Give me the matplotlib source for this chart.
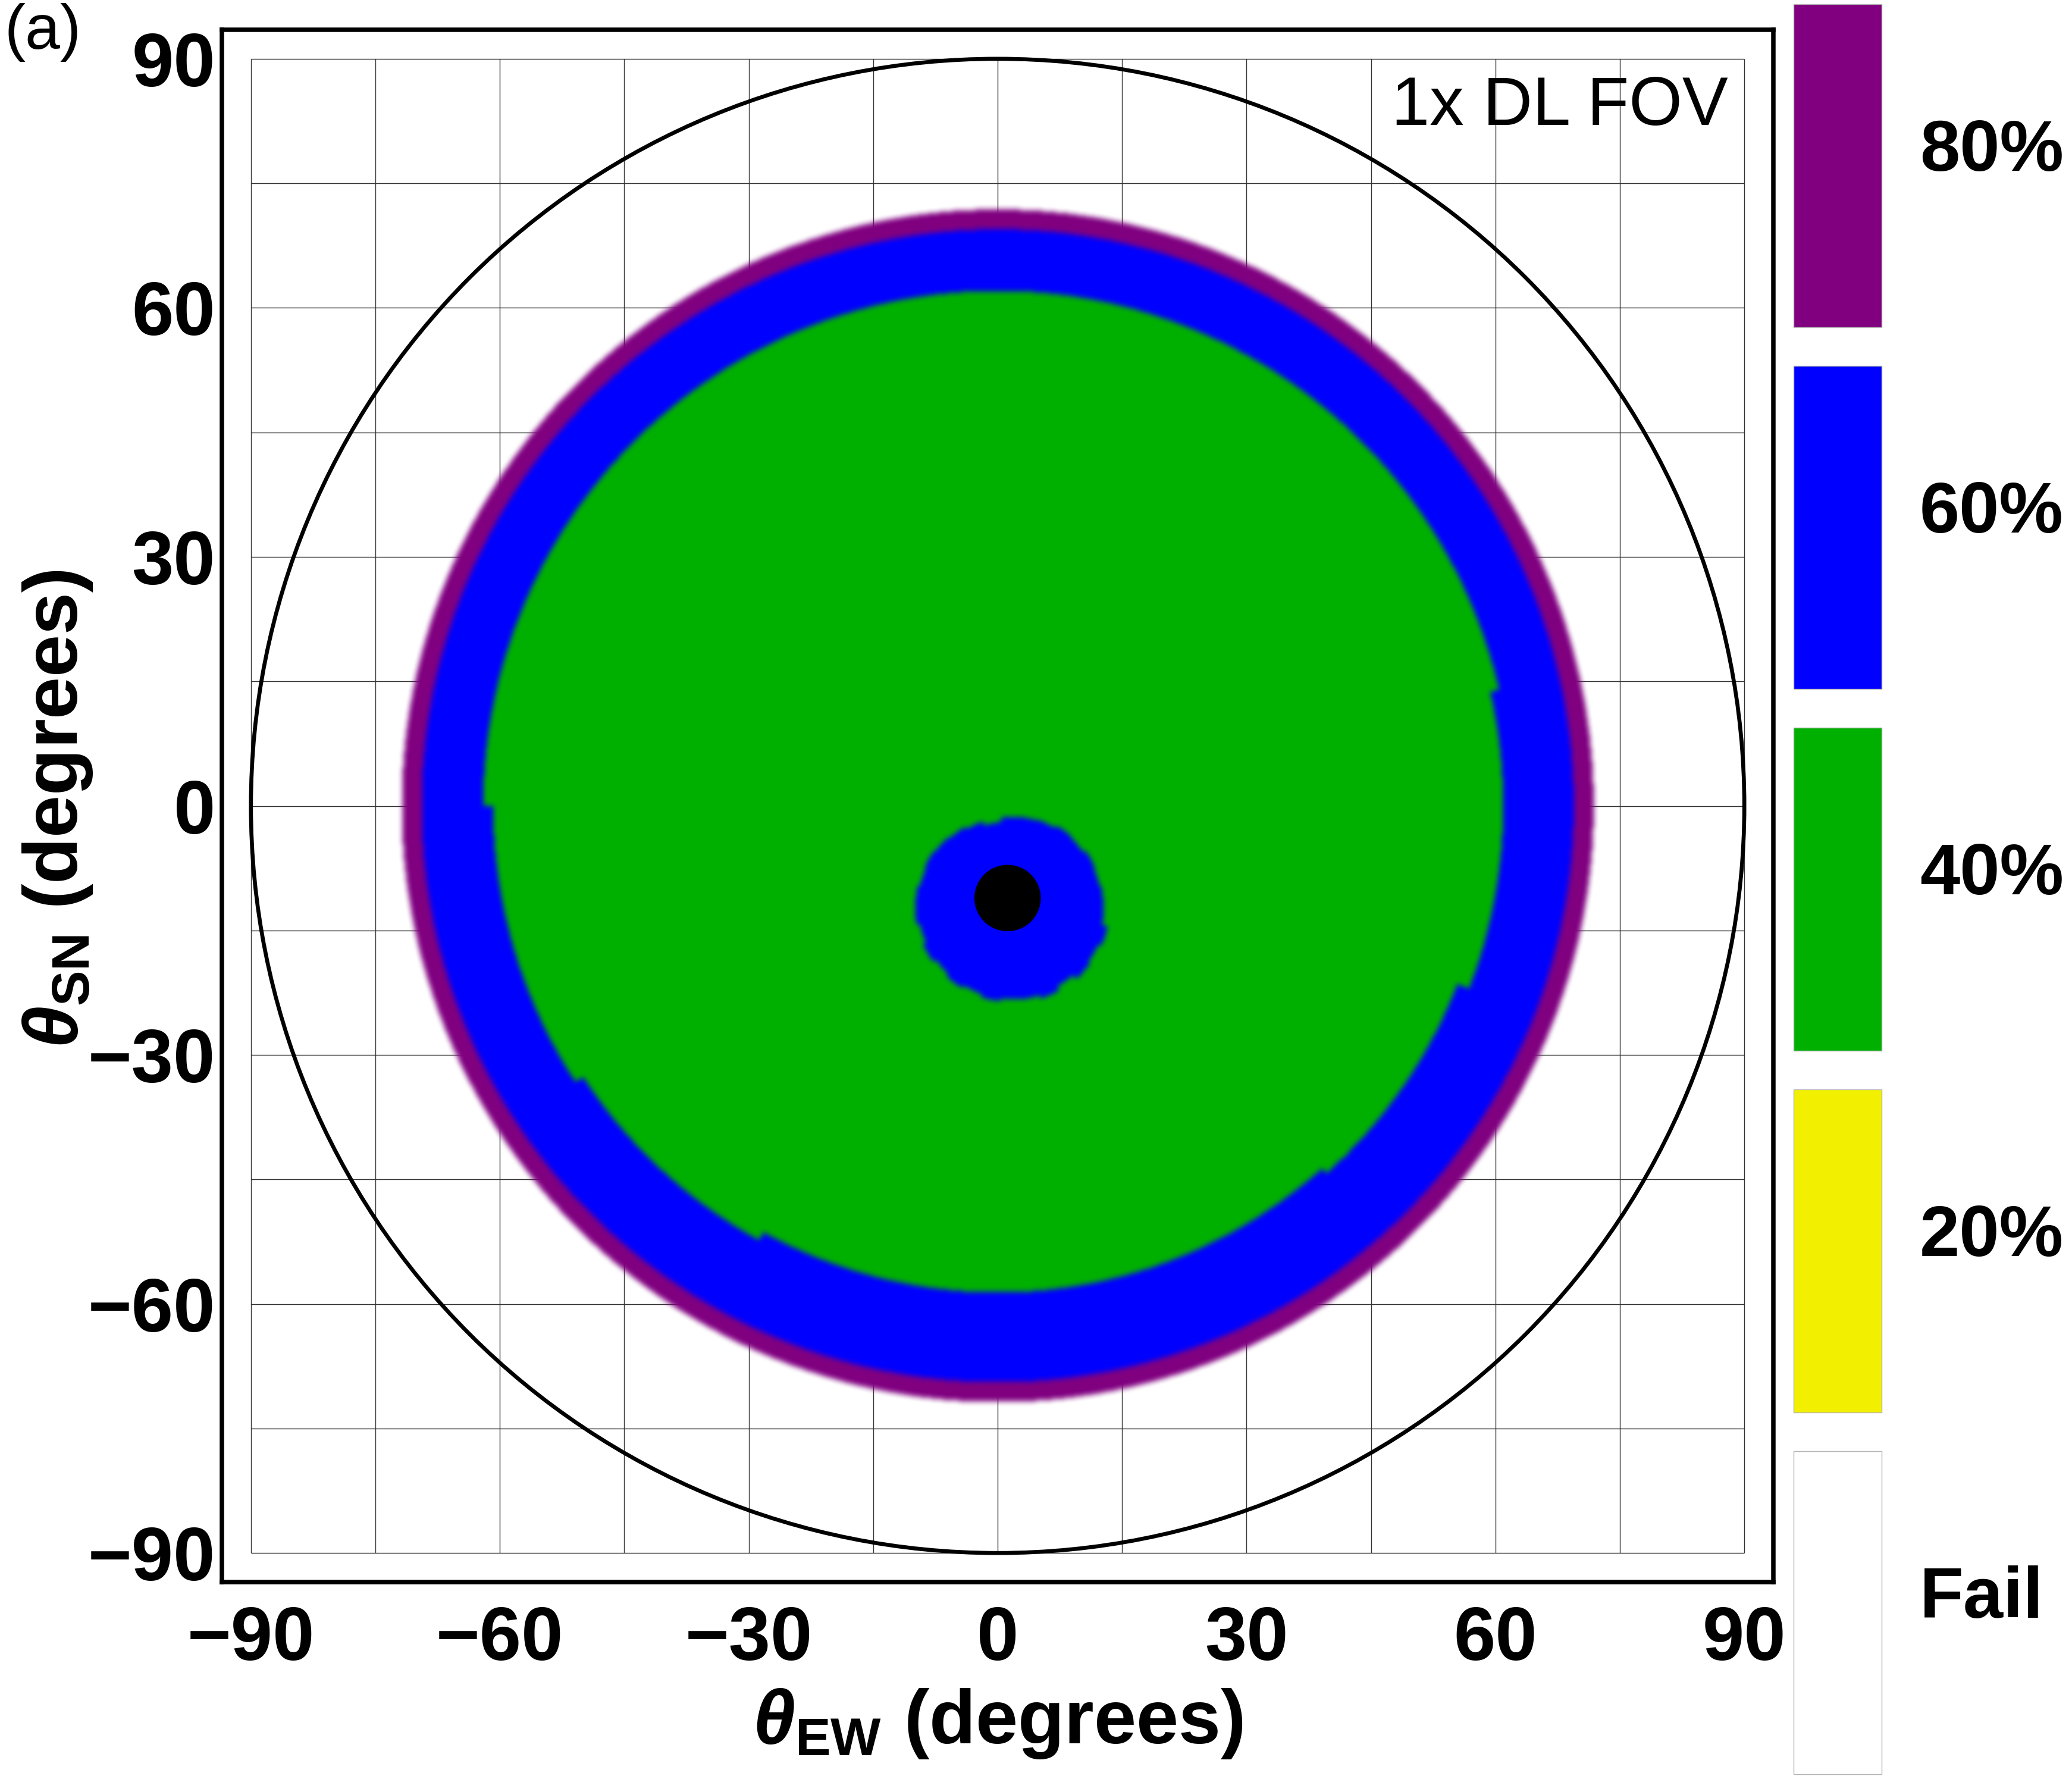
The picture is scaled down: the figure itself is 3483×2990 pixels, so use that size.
import numpy as np
import matplotlib
matplotlib.use('Agg')
import matplotlib.pyplot as plt
from matplotlib.patches import Circle

plt.rcParams['font.family'] = 'Liberation Sans'
plt.rcParams['mathtext.fontset'] = 'custom'
plt.rcParams['mathtext.rm'] = 'Liberation Sans:bold'
plt.rcParams['mathtext.bf'] = 'Liberation Sans:bold'
plt.rcParams['mathtext.it'] = 'Liberation Sans:italic:bold'

# legend, top to bottom
legend_labels = ['80%', '60%', '40%', '20%', 'Fail']
legend_colors = ['#800080', '#0000ff', '#00b000', '#f2f000', '#ffffff']

# coverage map (degrees)
ring_outer = 71.8          # 80% ring outer edge
ring_inner = 69.4          # 80% -> 60%
green_edges = [-180, -146.8, -118.8, -48.2, -21.2, 13.0, 180]
green_radii = [60.8, 59.7, 58.6, 59.4, 60.9, 62.0]   # 60% -> 40% per sector
blob_center = (1.5, -12.0)                            # 60% patch round the dot
blob_radii = [11.5, 11.1, 11.5, 11.1, 11.5, 11.2, 11.6, 11.3, 11.4, 11.8,
              11.3, 11.9, 11.6, 12.0, 11.3, 11.2, 11.0, 11.2, 10.9, 11.1,
              10.8, 10.7, 10.7, 10.1, 10.6, 10.9, 11.1, 11.3, 11.1, 11.4]
dot_center = (1.2, -11.1)
dot_radius = 3.95

ticks = [-90, -60, -30, 0, 30, 60, 90]
grid_pos = [-90, -75, -60, -45, -30, -15, 0, 15, 30, 45, 60, 75, 90]


def box_blur(a, k):
    kern = np.ones(k) / k
    a = np.apply_along_axis(lambda v: np.convolve(v, kern, mode='same'), 0, a)
    a = np.apply_along_axis(lambda v: np.convolve(v, kern, mode='same'), 1, a)
    return a


# build the level field on a fine grid
step = 0.15
g = np.arange(-76, 76 + step / 2, step)
X, Y = np.meshgrid(g, g)
R = np.hypot(X, Y)
phi = np.degrees(np.arctan2(Y, X))

level = np.full(R.shape, -1)
level[R <= ring_outer] = 0
level[R <= ring_inner] = 1
sec = np.clip(np.searchsorted(green_edges, phi, side='right') - 1, 0, len(green_radii) - 1)
level[R <= np.array(green_radii)[sec]] = 2
bx = X - blob_center[0]
by = Y - blob_center[1]
bphi = np.degrees(np.arctan2(by, bx))
bsec = ((bphi + 180) // 12).astype(int) % len(blob_radii)
level[np.hypot(bx, by) <= np.array(blob_radii)[bsec]] = 1

rgb = np.zeros(R.shape + (3,))
for i in range(3):
    rgb[level == i] = matplotlib.colors.to_rgb(legend_colors[i])
cov = (level >= 0).astype(float)

prem = rgb * cov[..., None]
for _ in range(2):
    prem = np.stack([box_blur(prem[..., c], 5) for c in range(3)], axis=-1)
    cov = box_blur(cov, 5)
img = np.zeros(R.shape + (4,))
safe = np.where(cov > 1e-6, cov, 1.0)
img[..., :3] = np.clip(prem / safe[..., None], 0, 1)
img[..., 3] = np.clip(cov, 0, 1)

W, H = 3483, 2990
fig = plt.figure(figsize=(W / 100, H / 100), dpi=100)
ax = fig.add_axes([373 / W, (H - 2659) / H, 2608 / W, 2609 / H])

ax.vlines(grid_pos, -90, 90, colors='0.2', lw=1.0, zorder=1)
ax.hlines(grid_pos, -90, 90, colors='0.2', lw=1.0, zorder=1)
ax.imshow(img, extent=[g[0] - step / 2, g[-1] + step / 2, g[0] - step / 2, g[-1] + step / 2],
          origin='lower', interpolation='bilinear', zorder=2)
ax.add_patch(Circle((0, 0), 90, fill=False, lw=4.8, color='black', zorder=3))
ax.add_patch(Circle(dot_center, dot_radius, color='black', zorder=4))

ax.set_xlim(-93.5, 93.5)
ax.set_ylim(-93.5, 93.5)
ax.set_aspect('auto')
ax.set_xticks(ticks)
ax.set_yticks(ticks)
ax.tick_params(axis='x', length=0, pad=28, labelsize=91)
ax.tick_params(axis='y', length=0, pad=8, labelsize=91)
for lab in ax.get_xticklabels() + ax.get_yticklabels():
    lab.set_fontweight('bold')
for sp in ax.spines.values():
    sp.set_linewidth(5.4)

ax.text(88, 82, '1x DL FOV', ha='right', va='baseline', fontsize=83)

fig.text(1677 / W, (H - 2930) / H, r'$\mathit{\theta}_{\mathrm{EW}}$ (degrees)',
         ha='center', va='baseline', fontsize=92, fontweight='bold')
fig.text(97 / W, (H - 1360) / H, r'$\mathit{\theta}_{\mathrm{SN}}$ (degrees)',
         rotation=90, ha='center', va='center', fontsize=92, fontweight='bold')
fig.text(8 / W, 1 - 5 / H, '(a)', ha='left', va='top', fontsize=76)

# legend column
lax = fig.add_axes([3015 / W, 8 / H, 148 / W, 2975 / H])
lax.set_xlim(0, 1)
lax.set_ylim(0, 4.893)
lax.axis('off')
for i, (lab, col) in enumerate(zip(legend_labels[::-1], legend_colors[::-1])):
    lax.bar(0.5, 0.893, bottom=i, width=1, color=col, edgecolor='#b4b4b4',
            lw=1.0, clip_on=False)
    lax.text(1.43, i + 0.433, lab, ha='left', va='baseline', fontsize=87,
             fontweight='bold', clip_on=False)

fig.savefig('out.png', dpi=100)
